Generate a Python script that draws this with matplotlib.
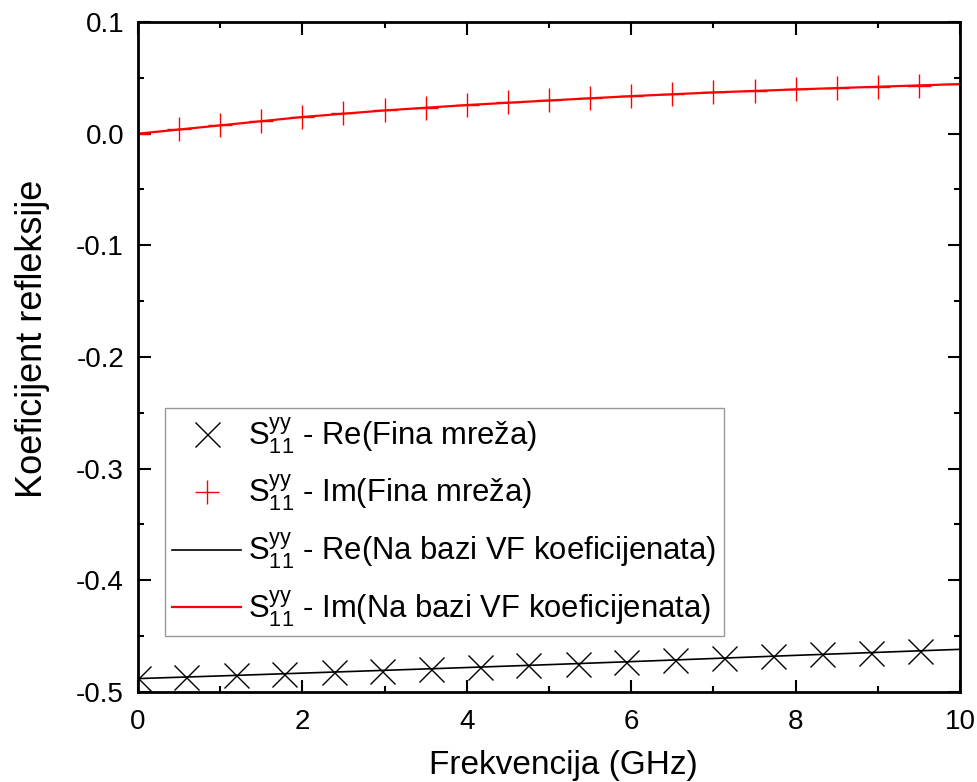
import matplotlib
matplotlib.use("Agg")
import matplotlib.pyplot as plt
from matplotlib.ticker import MultipleLocator, FormatStrFormatter

plt.rcParams['font.family'] = ['Liberation Sans', 'DejaVu Sans']
plt.rcParams['mathtext.fontset'] = 'custom'
plt.rcParams['mathtext.rm'] = 'Liberation Sans'
plt.rcParams['mathtext.it'] = 'Liberation Sans'
plt.rcParams['axes.unicode_minus'] = False

# Fine mesh (markers)
f_re_fine = [0.0, 0.59, 1.19, 1.78, 2.38, 2.97, 3.56, 4.16, 4.75, 5.35, 5.94,
             6.53, 7.13, 7.73, 8.32, 8.92, 9.51]
re_fine = [-0.4878, -0.4865, -0.4852, -0.4838, -0.4823, -0.4808, -0.4792, -0.4777,
           -0.4761, -0.4745, -0.4729, -0.4710, -0.4695, -0.4679, -0.4664, -0.4649, -0.4634]

f_im_fine = [0.0, 0.5, 1.0, 1.5, 2.0, 2.5, 3.0, 3.5, 4.0, 4.5, 5.0,
             5.5, 6.0, 6.5, 7.0, 7.5, 8.0, 8.5, 9.0, 9.5, 10.0]
im_fine = [0.0, 0.0038, 0.0074, 0.0113, 0.0149, 0.0181, 0.0208, 0.0232, 0.0256, 0.0279,
           0.0297, 0.0318, 0.0336, 0.0354, 0.0369, 0.0384, 0.0396, 0.0408, 0.0420, 0.0431, 0.0444]

# VF coefficient based curves (lines)
f_vf = [0, 1, 2, 3, 4, 5, 6, 7, 8, 9, 10]
re_vf = [-0.4880, -0.4856, -0.4831, -0.4806, -0.4781, -0.4755, -0.4728, -0.4700,
         -0.4672, -0.4645, -0.4618]
im_vf = [0.0, 0.0074, 0.0149, 0.0208, 0.0256, 0.0297, 0.0336, 0.0369, 0.0396, 0.0420, 0.0444]

labels = [r'$\mathregular{S_{11}^{yy}}$ - Re(Fina mreža)',
          r'$\mathregular{S_{11}^{yy}}$ - Im(Fina mreža)',
          r'$\mathregular{S_{11}^{yy}}$ - Re(Na bazi VF koeficijenata)',
          r'$\mathregular{S_{11}^{yy}}$ - Im(Na bazi VF koeficijenata)']

fig = plt.figure(figsize=(9.78, 7.82), dpi=100)
ax = fig.add_axes([0.1411, 0.1151, 0.8405, 0.8568])

ax.plot(f_re_fine, re_fine, linestyle='none', marker='x', color='black',
        markersize=18, markeredgewidth=1.0, label=labels[0])
ax.plot(f_im_fine, im_fine, linestyle='none', marker='+', color='red',
        markersize=17, markeredgewidth=1.0, label=labels[1])
ax.plot(f_vf, re_vf, color='black', linewidth=1.2, label=labels[2])
ax.plot(f_vf, im_vf, color='red', linewidth=1.6, label=labels[3])

ax.set_xlim(0, 10)
ax.set_ylim(-0.5, 0.1)
ax.xaxis.set_major_locator(MultipleLocator(2))
ax.xaxis.set_minor_locator(MultipleLocator(1))
ax.yaxis.set_major_locator(MultipleLocator(0.1))
ax.yaxis.set_minor_locator(MultipleLocator(0.05))
ax.yaxis.set_major_formatter(FormatStrFormatter('%.1f'))

for s in ax.spines.values():
    s.set_linewidth(2.0)
ax.tick_params(which='both', direction='in', top=True, right=True, width=1.5)
ax.tick_params(which='major', length=9, labelsize=20)
ax.tick_params(axis='y', which='major', pad=10)
ax.tick_params(axis='x', which='major', pad=12)
ax.tick_params(which='minor', length=4.5)

ax.set_xlabel('Frekvencija (GHz)', fontsize=24, labelpad=11)
ax.set_ylabel('Koeficijent refleksije', fontsize=26, labelpad=19)
ax.xaxis.label.set_x(0.517)
ax.yaxis.label.set_y(0.527)

leg = ax.legend(loc='lower left', bbox_to_anchor=(0.0325, 0.083), fontsize=22.3,
                frameon=True, fancybox=False, edgecolor='#808080',
                handlelength=2.2, handletextpad=0.25, borderpad=0.25,
                labelspacing=0.56, borderaxespad=0)
leg.get_frame().set_linewidth(1.0)

fig.savefig('out.png', dpi=100)
